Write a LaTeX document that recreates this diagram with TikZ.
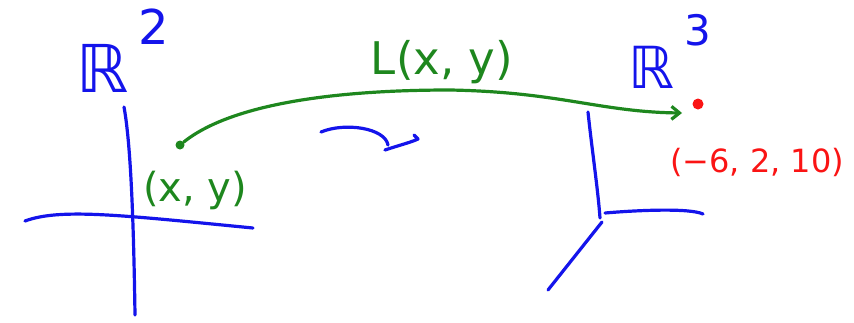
\documentclass[tikz,border=0pt]{standalone}
\usepackage{fontspec}
\setmainfont{DejaVu Sans}
\usetikzlibrary{arrows.meta}
\definecolor{pblue}{RGB}{20,20,235}
\definecolor{pgreen}{RGB}{30,135,30}
\definecolor{pred}{RGB}{250,20,20}
\tikzset{
  pen/.style={line width=3.2pt, line cap=round, line join=round},
  axis/.style={pen, pblue},
  lbl/.style={inner sep=0pt, font=#1},
}
\begin{document}
\begin{tikzpicture}[x=1pt,y=-1pt]
\useasboundingbox (0,0) rectangle (854,322);
% left axes R^2
\coordinate (lvt) at (124,107);
\coordinate (lvb) at (135,315);
\coordinate (lhl) at (25,221);
\coordinate (lhr) at (253,228);
\draw[axis] (lvt) .. controls (132,150) and (134,250) .. (lvb);
\draw[axis] (lhl) .. controls (60,208) and (120,215) .. (lhr);
\node[lbl={\fontsize{66}{72}\selectfont}, text=pblue] (R2) at (103,68) {ℝ};
\node[lbl={\fontsize{48}{54}\selectfont}, text=pblue] (R2e) at (154,27) {2};
% point (x,y)
\node[circle, fill=pgreen, inner sep=0pt, minimum size=9pt] (p) at (180,145) {};
\node[lbl={\fontsize{40}{46}\selectfont}, text=pgreen] (pxy) at (195,190) {(x, y)};
% right axes R^3
\coordinate (rvt) at (588,112);
\coordinate (ro) at (600,218);
\coordinate (rh) at (703,214);
\coordinate (rd) at (548,290);
\draw[axis] (rvt) .. controls (592,150) and (598,190) .. (ro);
\draw[axis] (605,213) .. controls (640,210) and (690,208) .. (rh);
\draw[axis] (602,222) -- (rd);
\node[lbl={\fontsize{58}{64}\selectfont}, text=pblue] (R3) at (651,67) {ℝ};
\node[lbl={\fontsize{42}{48}\selectfont}, text=pblue] (R3e) at (698,30) {3};
% image point
\node[circle, fill=pred, inner sep=0pt, minimum size=11pt] (q) at (698,104) {};
\node[lbl={\fontsize{32}{38}\selectfont}, text=pred] (qlab) at (757,162) {(−6, 2, 10)};
% mapping arrow
\coordinate (tip) at (682,113);
\draw[pen, pgreen, -{Straight Barb[length=8pt,width=13pt]}] (p) .. controls (230,105) and (330,90) .. (450,90)
  .. controls (560,92) and (600,112) .. (tip);
\node[lbl={\fontsize{45}{52}\selectfont}, text=pgreen] (L) at (442,62) {L(x, y)};
% small blue curved arrow
\draw[axis] (321,132) .. controls (345,122) and (385,128) .. (388,145);
\draw[axis] (385,150) .. controls (400,145) and (412,142) .. (418,139) -- (414,135);
\end{tikzpicture}
\end{document}
